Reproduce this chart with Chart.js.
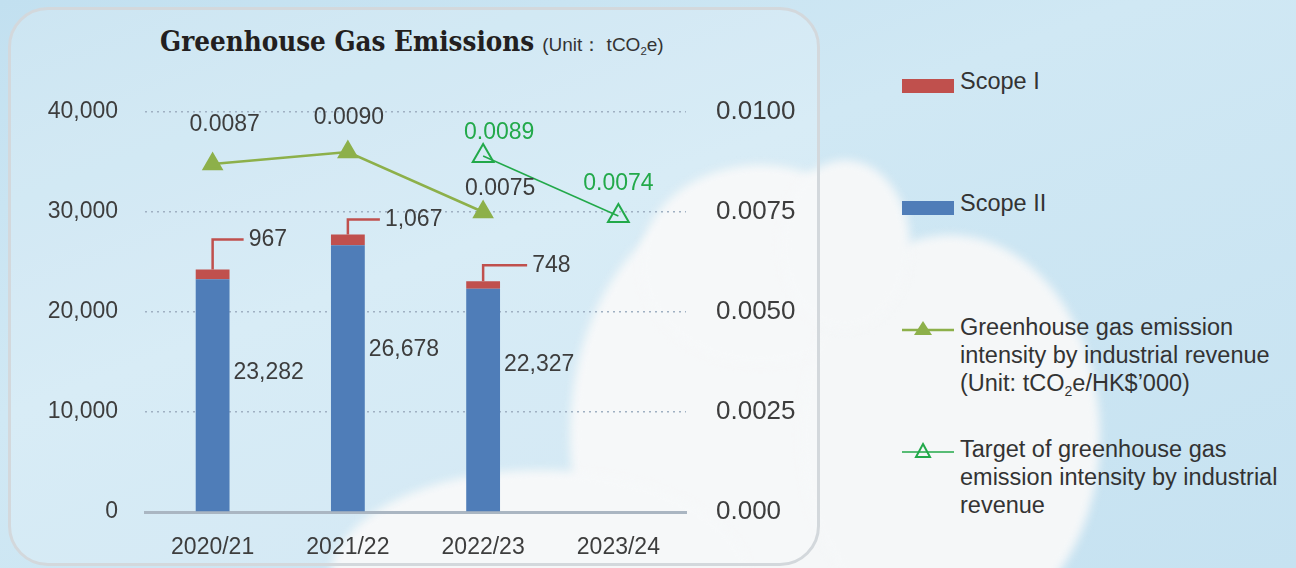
<!DOCTYPE html>
<html>
<head>
<meta charset="utf-8">
<script src="https://cdn.jsdelivr.net/npm/chart.js@4.4.1/dist/chart.umd.min.js"></script>
<style>
  html, body { margin: 0; padding: 0; }
  body {
    width: 1296px; height: 568px; overflow: hidden; position: relative;
    background: linear-gradient(160deg, #c2e0f0 0%, #d0e8f4 40%, #c6e2f1 100%);
    font-family: "Liberation Sans", Arial, sans-serif; color: #3a3a3a;
  }
  .cloud { position: absolute; background: #f5f7f8; border-radius: 50%; filter: blur(5px); }
  #panel {
    position: absolute; left: 8px; top: 7px; width: 806px; height: 553px;
    border: 3px solid #d3d8dc; border-radius: 40px;
    background: rgba(255,255,255,0.18);
  }
  #title { position: absolute; left: 160px; top: 25px; white-space: nowrap; }
  #title b { font-family: "DejaVu Serif Condensed", "DejaVu Serif", serif; font-stretch: condensed; font-size: 27.5px; color: #231f20; }
  #title span { font-size: 19px; color: #333; margin-left: 8px; }
  sub { font-size: 0.6em; vertical-align: -0.35em; line-height: 0; }
  #wrap { position: absolute; left: 0; top: 0; width: 820px; height: 568px; }
  .leg { position: absolute; left: 902px; font-size: 23.5px; line-height: 28px; color: #333; }
  .leg .txt { position: absolute; left: 58px; top: 0; white-space: nowrap; }
  .sw { position: absolute; left: 0; width: 52px; height: 14px; }
</style>
</head>
<body>
<div class="cloud" style="left:570px; top:200px; width:340px; height:470px;"></div>
<div class="cloud" style="left:640px; top:165px; width:240px; height:200px;"></div>
<div class="cloud" style="left:330px; top:470px; width:420px; height:220px;"></div>
<div class="cloud" style="left:800px; top:235px; width:300px; height:400px;"></div>
<div class="cloud" style="left:780px; top:160px; width:130px; height:170px;"></div>
<div id="panel"></div>
<div id="title"><b>Greenhouse Gas Emissions</b><span>(Unit： tCO<sub>2</sub>e)</span></div>
<div id="wrap"><canvas id="ghg"></canvas></div>

<div class="leg" style="top:67px;"><div class="sw" style="top:12px; background:#c0504d;"></div><div class="txt">Scope I</div></div>
<div class="leg" style="top:189px;"><div class="sw" style="top:12px; background:#4f7db8;"></div><div class="txt">Scope II</div></div>
<div class="leg" style="top:313px;">
  <svg class="sw" style="top:4px; height:20px;" width="54" height="20"><line x1="0" y1="13" x2="53" y2="13" stroke="#8db04a" stroke-width="2.5"/><polygon points="21,4 30,18 12,18" fill="#8db04a"/></svg>
  <div class="txt">Greenhouse gas emission<br>intensity by industrial revenue<br>(Unit: tCO<sub>2</sub>e/HK$’000)</div>
</div>
<div class="leg" style="top:435px;">
  <svg class="sw" style="top:4px; height:20px;" width="54" height="20"><line x1="0" y1="13" x2="53" y2="13" stroke="#22a94a" stroke-width="1.5"/><polygon points="21,5 28,18 14,18" fill="none" stroke="#22a94a" stroke-width="2"/></svg>
  <div class="txt">Target of greenhouse gas<br>emission intensity by industrial<br>revenue</div>
</div>

<script>
// data
const years = ['2020/21', '2021/22', '2022/23', '2023/24'];
const scope1 = [967, 1067, 748, null];
const scope2 = [23282, 26678, 22327, null];
const intensity = [0.0087, 0.0090, 0.0075, null];
const target = [null, null, 0.0089, 0.0074];
const leftTicks = ['0', '10,000', '20,000', '30,000', '40,000'];
const rightTicks = ['0.000', '0.0025', '0.0050', '0.0075', '0.0100'];

const RED = '#c0504d';
const BLUE = '#4f7db8';
const OLIVE = '#8db04a';
const GREEN = '#22a94a';
const TEXT = '#3d3d3d';

// callout / label placement (px offsets), per bar or point
const calloutRise = [30, 15, 16];
const calloutRun = [31, 32, 44];
const scope2LabelAt = [0.6, 0.61, 0.66];
const intensityOffsets = [[12, -39], [1, -34], [17, -23]];
const targetOffsets = { 2: [16, -23], 3: [0, -32] };

function fmt(n) {
  return n.toLocaleString('en-US');
}

// draws the value labels and the red leader lines for Scope I
const labelPlugin = {
  id: 'labels',
  afterDatasetsDraw(chart) {
    const ctx = chart.ctx;
    const x = chart.scales.x, y = chart.scales.y, y1 = chart.scales.y1;
    ctx.save();
    ctx.font = '23px "Liberation Sans", Arial, sans-serif';
    ctx.textBaseline = 'middle';

    years.forEach((yr, i) => {
      if (scope2[i] == null) return;
      const cx = x.getPixelForValue(i);
      const bar = chart.getDatasetMeta(3).data[i];
      const half = bar.width / 2;
      // scope II label beside the bar
      ctx.fillStyle = TEXT;
      ctx.textAlign = 'left';
      ctx.fillText(fmt(scope2[i]), cx + half + 4, y.getPixelForValue(scope2[i] * scope2LabelAt[i]));
      // scope I callout
      const topY = y.getPixelForValue(scope2[i] + scope1[i]);
      const ly = topY - calloutRise[i];
      ctx.strokeStyle = RED;
      ctx.lineWidth = 2.5;
      ctx.beginPath();
      ctx.moveTo(cx, topY);
      ctx.lineTo(cx, ly);
      ctx.lineTo(cx + calloutRun[i], ly);
      ctx.stroke();
      ctx.fillText(fmt(scope1[i]), cx + calloutRun[i] + 5, ly);
    });

    ctx.textAlign = 'center';
    intensity.forEach((v, i) => {
      if (v == null) return;
      const px = x.getPixelForValue(i), py = y1.getPixelForValue(v);
      const o = intensityOffsets[i];
      ctx.fillStyle = TEXT;
      ctx.fillText(v.toFixed(4), px + o[0], py + o[1]);
    });
    target.forEach((v, i) => {
      if (v == null) return;
      const px = x.getPixelForValue(i), py = y1.getPixelForValue(v);
      const o = targetOffsets[i];
      ctx.fillStyle = GREEN;
      ctx.fillText(v.toFixed(4), px + o[0], py + o[1]);
    });
    ctx.restore();
  }
};

const tickFont = { family: '"Liberation Sans", Arial, sans-serif', size: 23 };

new Chart(document.getElementById('ghg'), {
  type: 'bar',
  data: {
    labels: years,
    datasets: [
      {
        type: 'line', label: 'Target', data: target, yAxisID: 'y1',
        borderColor: GREEN, borderWidth: 1.5, pointStyle: 'triangle',
        pointRadius: 12, pointBorderWidth: 2, pointBackgroundColor: 'rgba(0,0,0,0)',
        pointBorderColor: GREEN
      },
      {
        type: 'line', label: 'Intensity', data: intensity, yAxisID: 'y1',
        borderColor: OLIVE, borderWidth: 2.5, pointStyle: 'triangle',
        pointRadius: 10, pointBackgroundColor: OLIVE, pointBorderColor: OLIVE
      },
      {
        label: 'Scope II', data: scope2, backgroundColor: BLUE, stack: 's',
        barPercentage: 0.5, categoryPercentage: 0.5
      },
      {
        label: 'Scope I', data: scope1, backgroundColor: RED, stack: 's',
        barPercentage: 0.5, categoryPercentage: 0.5
      }
    ]
  },
  options: {
    responsive: true,
    maintainAspectRatio: false,
    animation: false,
    layout: { padding: { top: 112, left: 0, right: 0, bottom: 0 } },
    plugins: { legend: { display: false }, tooltip: { enabled: false } },
    scales: {
      x: {
        stacked: true,
        grid: { display: false },
        border: { display: true, color: '#aab6c2', width: 3 },
        ticks: { color: TEXT, font: tickFont, padding: 14 },
        afterFit(s) { s.height = 56; }
      },
      y: {
        stacked: true, min: 0, max: 40000,
        grid: {
          color: ctx => ctx.tick.value === 0 ? 'rgba(0,0,0,0)' : '#9fb0c2',
          lineWidth: 1.5, drawTicks: false
        },
        border: { display: false, dash: [2, 4] },
        ticks: {
          stepSize: 10000, color: TEXT, font: tickFont, padding: 27,
          callback: (v, i) => leftTicks[i]
        },
        afterFit(s) { s.width = 145; }
      },
      y1: {
        position: 'right', min: 0, max: 0.01,
        grid: { display: false },
        border: { display: false },
        ticks: {
          stepSize: 0.0025, color: TEXT, font: { family: tickFont.family, size: 26 }, padding: 22,
          callback: (v, i) => rightTicks[i]
        },
        afterFit(s) { s.width = 134; }
      }
    }
  },
  plugins: [labelPlugin]
});
</script>
</body>
</html>
